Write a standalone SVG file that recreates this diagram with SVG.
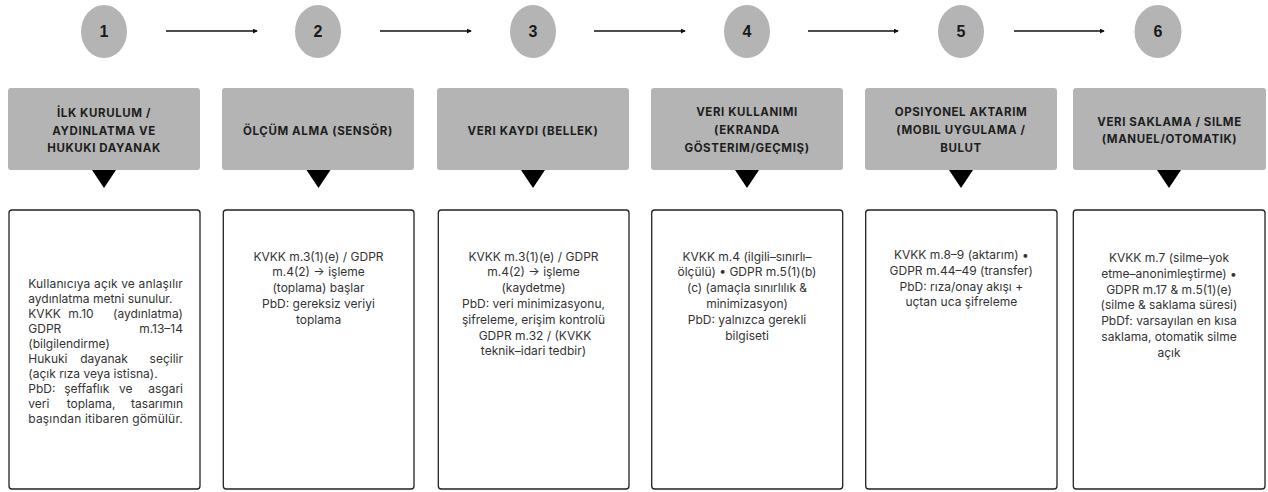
<svg xmlns="http://www.w3.org/2000/svg" width="1268" height="492" viewBox="0 0 1268 492">
<style>
.num{fill:#b4b4b4}
.numt{font-family:"Liberation Sans",Arial,sans-serif;font-weight:700;font-size:16px;fill:#1a1a1a;text-anchor:middle}
.hdr{fill:#b4b4b4}
.hdrt{font-family:Inter,"Noto Sans",sans-serif;font-weight:700;font-size:11.5px;letter-spacing:0.6px;fill:#1e1e1e;text-anchor:middle}
.tri{fill:#000}
.body{fill:#fff;stroke:#222;stroke-width:1.3}
.bt{font-family:Inter,"Noto Sans",sans-serif;font-size:12px;fill:#333;text-anchor:middle}
.bj{font-family:Inter,"Noto Sans",sans-serif;font-size:12px;fill:#333}
.conn{stroke:#111;stroke-width:1.3;fill:none}
</style>
<defs>
<marker id="ah" viewBox="0 0 6 6" refX="5" refY="3" markerWidth="5" markerHeight="5" markerUnits="userSpaceOnUse" orient="auto">
<path d="M0,0 L6,3 L0,6 z" fill="#111"/>
</marker>
</defs>

<g id="connectors">
<line class="conn" x1="166" y1="31" x2="257" y2="31" marker-end="url(#ah)"/>
<line class="conn" x1="380" y1="31" x2="471" y2="31" marker-end="url(#ah)"/>
<line class="conn" x1="594" y1="31" x2="685" y2="31" marker-end="url(#ah)"/>
<line class="conn" x1="808" y1="31" x2="898" y2="31" marker-end="url(#ah)"/>
<line class="conn" x1="1014" y1="31" x2="1104" y2="31" marker-end="url(#ah)"/>
</g>

<g id="step1">
<ellipse class="num" cx="104" cy="31.5" rx="23" ry="26.5"/>
<text class="numt" x="104" y="37">1</text>
<rect class="hdr" x="8" y="88" width="192" height="82" rx="3"/>
<text class="hdrt" x="104" y="117">İLK KURULUM /</text>
<text class="hdrt" x="104" y="134.5">AYDINLATMA VE</text>
<text class="hdrt" x="104" y="152">HUKUKI DAYANAK</text>
<path class="tri" d="M92,170 L116,170 L104,188 z"/>
<rect class="body" x="9" y="210" width="191" height="279" rx="3"/>
<text class="bj" x="28.3" y="287.5" textLength="154.5" lengthAdjust="spacing">Kullanıcıya açık ve anlaşılır</text>
<text class="bj" x="28.3" y="302.6">aydınlatma metni sunulur.</text>
<text class="bj" x="28.3" y="317.7">KVKK</text><text class="bt" x="81" y="317.7">m.10</text><text class="bj" x="183" y="317.7" text-anchor="end">(aydınlatma)</text>
<text class="bj" x="28.3" y="332.8">GDPR</text><text class="bj" x="183" y="332.8" text-anchor="end">m.13–14</text>
<text class="bj" x="28.3" y="347.9">(bilgilendirme)</text>
<text class="bj" x="28.3" y="363">Hukuki</text><text class="bt" x="104" y="363">dayanak</text><text class="bj" x="183" y="363" text-anchor="end">seçilir</text>
<text class="bj" x="28.3" y="378.1">(açık rıza veya istisna).</text>
<text class="bj" x="28.3" y="393.2">PbD:</text><text class="bt" x="86.7" y="393.2">şeffaflık</text><text class="bt" x="125.8" y="393.2">ve</text><text class="bj" x="183" y="393.2" text-anchor="end">asgari</text>
<text class="bj" x="28.3" y="408.3">veri</text><text class="bt" x="91" y="408.3">toplama,</text><text class="bj" x="183" y="408.3" text-anchor="end">tasarımın</text>
<text class="bj" x="28.3" y="423.4" textLength="154.5" lengthAdjust="spacing">başından itibaren gömülür.</text>
</g>

<g id="step2">
<ellipse class="num" cx="318" cy="31.5" rx="23" ry="26.5"/>
<text class="numt" x="318" y="37">2</text>
<rect class="hdr" x="222" y="88" width="192" height="82" rx="3"/>
<text class="hdrt" x="318" y="134.5">ÖLÇÜM ALMA (SENSÖR)</text>
<path class="tri" d="M306.5,170 L330.5,170 L318.5,188 z"/>
<rect class="body" x="223.3" y="210" width="190.7" height="279" rx="3"/>
<text class="bt" x="318.5" y="260.5">KVKK m.3(1)(e) / GDPR</text>
<text class="bt" x="318.5" y="276.3">m.4(2) → işleme</text>
<text class="bt" x="318.5" y="292.1">(toplama) başlar</text>
<text class="bt" x="318.5" y="307.9">PbD: gereksiz veriyi</text>
<text class="bt" x="318.5" y="323.7">toplama</text>
</g>

<g id="step3">
<ellipse class="num" cx="533" cy="31.5" rx="23" ry="26.5"/>
<text class="numt" x="533" y="37">3</text>
<rect class="hdr" x="437" y="88" width="192" height="82" rx="3"/>
<text class="hdrt" x="533" y="134.5">VERI KAYDI (BELLEK)</text>
<path class="tri" d="M521,170 L545,170 L533,188 z"/>
<rect class="body" x="438.3" y="210" width="190.7" height="279" rx="3"/>
<text class="bt" x="533.5" y="260.5">KVKK m.3(1)(e) / GDPR</text>
<text class="bt" x="533.5" y="276.3">m.4(2) → işleme</text>
<text class="bt" x="533.5" y="292.1">(kaydetme)</text>
<text class="bt" x="533.5" y="307.9">PbD: veri minimizasyonu,</text>
<text class="bt" x="533.5" y="323.7">şifreleme, erişim kontrolü</text>
<text class="bt" x="535" y="339.5">GDPR m.32 / (KVKK</text>
<text class="bt" x="533.5" y="355.3">teknik–idari tedbir)</text>
</g>

<g id="step4">
<ellipse class="num" cx="747" cy="31.5" rx="23" ry="26.5"/>
<text class="numt" x="747" y="37">4</text>
<rect class="hdr" x="651" y="88" width="192" height="82" rx="3"/>
<text class="hdrt" x="747" y="116">VERI KULLANIMI</text>
<text class="hdrt" x="747" y="134">(EKRANDA</text>
<text class="hdrt" x="747" y="151.5">GÖSTERIM/GEÇMIŞ)</text>
<path class="tri" d="M735,170 L759,170 L747,188 z"/>
<rect class="body" x="651.7" y="210" width="191" height="279" rx="3"/>
<text class="bt" x="747" y="260.5">KVKK m.4 (ilgili–sınırlı–</text>
<text class="bt" x="747" y="276.3">ölçülü) • GDPR m.5(1)(b)</text>
<text class="bt" x="747" y="292.1">(c) (amaçla sınırlılık &amp;</text>
<text class="bt" x="747" y="307.9">minimizasyon)</text>
<text class="bt" x="747" y="323.7">PbD: yalnızca gerekli</text>
<text class="bt" x="747" y="339.5">bilgiseti</text>
</g>

<g id="step5">
<ellipse class="num" cx="961" cy="31.5" rx="23" ry="26.5"/>
<text class="numt" x="961" y="37">5</text>
<rect class="hdr" x="865" y="88" width="192" height="82" rx="3"/>
<text class="hdrt" x="961" y="116">OPSIYONEL AKTARIM</text>
<text class="hdrt" x="961" y="134">(MOBIL UYGULAMA /</text>
<text class="hdrt" x="961" y="151.5">BULUT</text>
<path class="tri" d="M949,170 L973,170 L961,188 z"/>
<rect class="body" x="865.7" y="210" width="191.3" height="279" rx="3"/>
<text class="bt" x="961.3" y="259">KVKK m.8–9 (aktarım) •</text>
<text class="bt" x="961.3" y="274.8">GDPR m.44–49 (transfer)</text>
<text class="bt" x="961.3" y="290.6">PbD: rıza/onay akışı +</text>
<text class="bt" x="961.3" y="306.4">uçtan uca şifreleme</text>
</g>

<g id="step6">
<ellipse class="num" cx="1158" cy="31.5" rx="23.5" ry="26.5"/>
<text class="numt" x="1158" y="37">6</text>
<rect class="hdr" x="1073" y="88" width="193" height="82" rx="3"/>
<text class="hdrt" x="1169.5" y="125.5">VERI SAKLAMA / SILME</text>
<text class="hdrt" x="1169.5" y="142.5">(MANUEL/OTOMATIK)</text>
<path class="tri" d="M1157,170 L1181,170 L1169,188 z"/>
<rect class="body" x="1073.3" y="210" width="191.7" height="279" rx="3"/>
<text class="bt" x="1169" y="262">KVKK m.7 (silme–yok</text>
<text class="bt" x="1169" y="277.8">etme–anonimleştirme) •</text>
<text class="bt" x="1169" y="293.6">GDPR m.17 &amp; m.5(1)(e)</text>
<text class="bt" x="1169" y="309.4">(silme &amp; saklama süresi)</text>
<text class="bt" x="1169" y="325.2">PbDf: varsayılan en kısa</text>
<text class="bt" x="1169" y="341">saklama, otomatik silme</text>
<text class="bt" x="1169" y="356.8">açık</text>
</g>
</svg>
